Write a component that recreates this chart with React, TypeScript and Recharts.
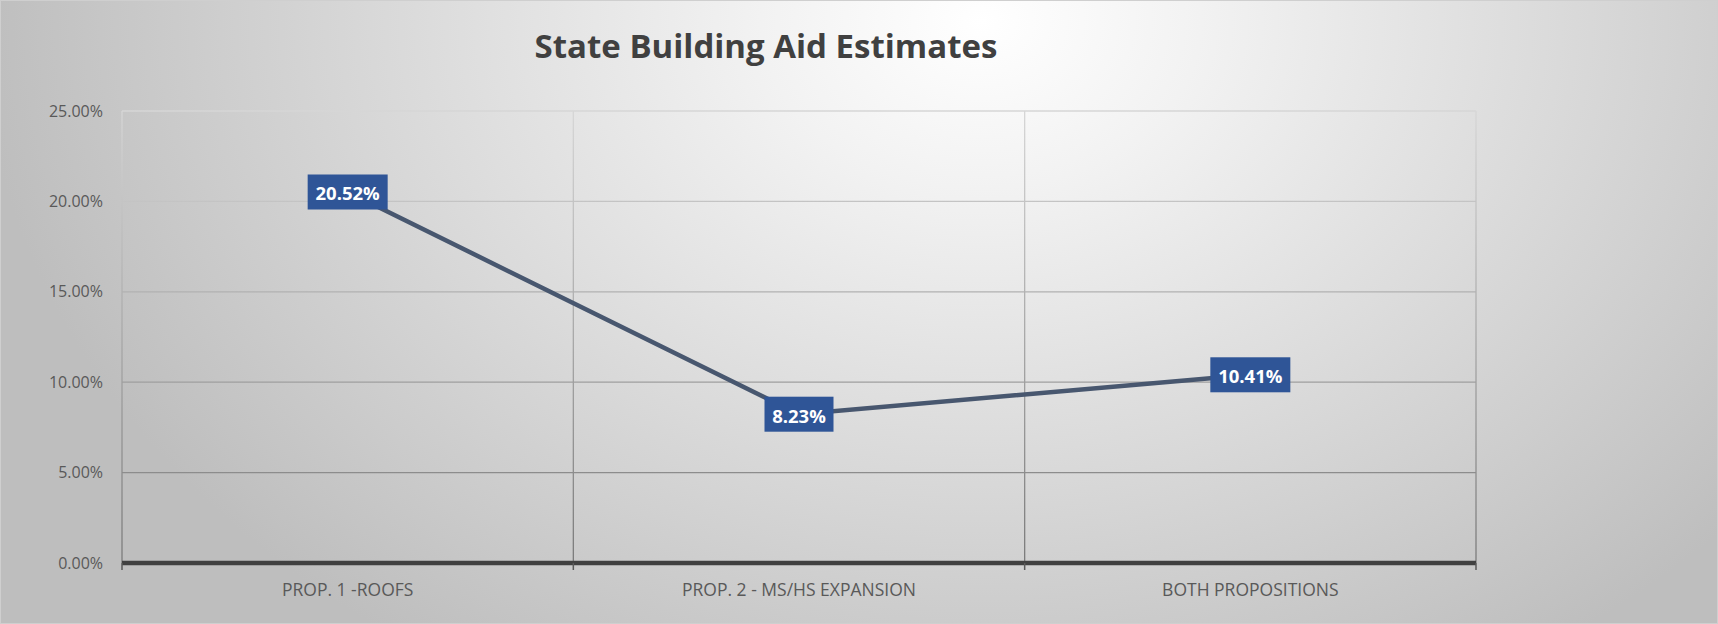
import React from 'react';
import { LineChart, Line, XAxis, YAxis, CartesianGrid, LabelList } from 'recharts';

const categories = ['PROP. 1 -ROOFS', 'PROP. 2 - MS/HS EXPANSION', 'BOTH PROPOSITIONS'];
const aidValues = [0.2052, 0.0823, 0.1041];
const yTicks = [0, 0.05, 0.1, 0.15, 0.2, 0.25];

const data = categories.map((name, i) => ({ name, value: aidValues[i] }));

const W = 1718;
const H = 624;
const MARGIN = { top: 111, right: 242, bottom: 11, left: 0 };
const Y_AXIS_W = 122;
const X_AXIS_H = 50;
const PLOT_TOP = MARGIN.top;
const PLOT_BOTTOM = H - MARGIN.bottom - X_AXIS_H;
const PLOT_W = W - MARGIN.right - MARGIN.left - Y_AXIS_W;

const pct = (v: number) => `${(v * 100).toFixed(2)}%`;

const CategoryTick = (props: any) => {
  const { x, y, payload, index } = props;
  const half = payload && typeof payload.offset === 'number' && payload.offset > 0
    ? payload.offset
    : PLOT_W / categories.length / 2;
  const isLast = index === categories.length - 1;
  return (
    <g>
      <line x1={x - half} y1={y} x2={x - half} y2={y + 7} stroke="#595959" strokeWidth={1.5} />
      {isLast && <line x1={x + half} y1={y} x2={x + half} y2={y + 7} stroke="#595959" strokeWidth={1.5} />}
      <text
        x={x}
        y={y + 26}
        textAnchor="middle"
        dominantBaseline="central"
        fill="#595959"
        fontSize={17.5}
        fontFamily="'Open Sans', sans-serif"
      >
        {payload.value}
      </text>
    </g>
  );
};

const ValueLabel = (props: any) => {
  const { x, y, value } = props;
  const text = pct(value);
  const w = text.length * 11 + 14;
  const h = 35;
  return (
    <g>
      <rect x={x - w / 2} y={y - h / 2} width={w} height={h} fill="#2F5597" />
      <text
        x={x}
        y={y + 1}
        textAnchor="middle"
        dominantBaseline="central"
        fill="#ffffff"
        fontSize={18.5}
        fontWeight={700}
        fontFamily="'Open Sans', sans-serif"
      >
        {text}
      </text>
    </g>
  );
};

export default function App() {
  return (
    <div
      style={{
        position: 'relative',
        width: W,
        height: H,
        boxSizing: 'border-box',
        border: '1px solid #cfcfcf',
        background:
          'radial-gradient(ellipse 1000px 760px at 980px 20px, #ffffff 0%, #f2f2f2 22%, #dcdcdc 55%, #c8c8c8 85%, #bebebe 100%)',
        overflow: 'hidden',
      }}
    >
      <style>{`body{margin:0}`}</style>
      <div
        style={{
          position: 'absolute',
          left: 0,
          top: 19,
          width: 1530,
          textAlign: 'center',
          fontFamily: "'Open Sans', sans-serif",
          fontWeight: 700,
          fontSize: 33,
          color: '#404040',
          lineHeight: '52px',
        }}
      >
        State Building Aid Estimates
      </div>
      <div style={{ position: 'absolute', left: -1, top: -1 }}>
        <LineChart width={W} height={H} data={data} margin={MARGIN}>
          <defs>
            <linearGradient id="gridGrad" gradientUnits="userSpaceOnUse" x1="0" y1={PLOT_TOP} x2="0" y2={PLOT_BOTTOM}>
              <stop offset="0%" stopColor="#d6d6d6" />
              <stop offset="100%" stopColor="#7a7a7a" />
            </linearGradient>
          </defs>
          <CartesianGrid
            stroke="url(#gridGrad)"
            strokeWidth={1.3}
            verticalCoordinatesGenerator={({ offset }: any) =>
              [0, 1, 2, 3].map((i) => offset.left + (offset.width * i) / categories.length)
            }
          />
          <XAxis
            dataKey="name"
            scale="band"
            height={X_AXIS_H}
            axisLine={{ stroke: '#404040', strokeWidth: 4.5 }}
            tickLine={false}
            tickSize={0}
            tickMargin={0}
            interval={0}
            tick={<CategoryTick />}
          />
          <YAxis
            width={Y_AXIS_W}
            domain={[0, 0.25]}
            ticks={yTicks}
            tickFormatter={pct}
            axisLine={false}
            tickLine={false}
            tickSize={19}
            tickMargin={0}
            tick={{ fill: '#595959', fontSize: 16, fontFamily: "'Open Sans', sans-serif" }}
          />
          <Line
            type="linear"
            dataKey="value"
            stroke="#48576f"
            strokeWidth={4.5}
            dot={false}
            activeDot={false}
            isAnimationActive={false}
          >
            <LabelList dataKey="value" content={<ValueLabel />} />
          </Line>
        </LineChart>
      </div>
    </div>
  );
}
